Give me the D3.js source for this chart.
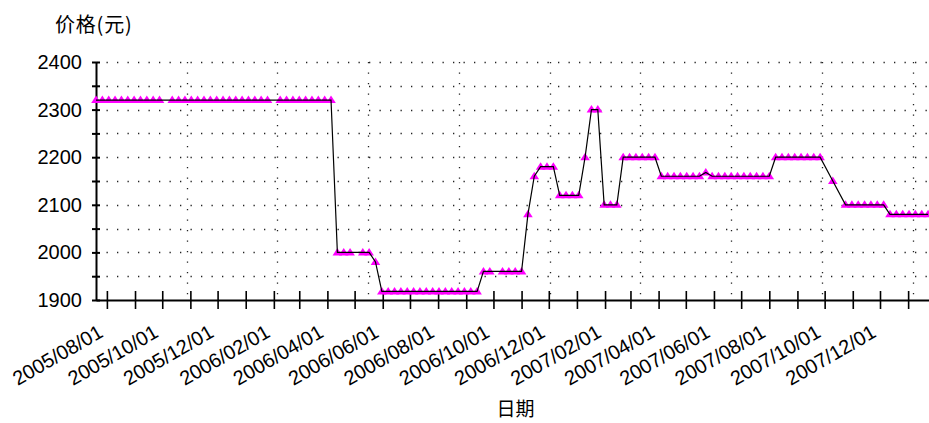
<!DOCTYPE html>
<html>
<head>
<meta charset="utf-8">
<script src="https://cdn.jsdelivr.net/npm/d3@7"></script>
<style>
  html, body { margin: 0; padding: 0; background: #fff; }
  svg { display: block; }
  text { font-family: "Liberation Sans", Arial, sans-serif; fill: #000; }
  .cjk { font-family: "Noto Sans CJK SC", sans-serif; }
</style>
</head>
<body>
<svg id="chart" width="929" height="423"></svg>
<script>
// ---- data ----
const dates = [
  "2005-07-20","2005-07-27","2005-08-03","2005-08-10","2005-08-17","2005-08-24","2005-08-31","2005-09-07","2005-09-14","2005-09-21","2005-09-28",
  "2005-10-12","2005-10-19","2005-10-26","2005-11-02","2005-11-09","2005-11-16","2005-11-23","2005-11-30","2005-12-07","2005-12-14","2005-12-21","2005-12-28","2006-01-04","2006-01-11","2006-01-18","2006-01-25",
  "2006-02-08","2006-02-15","2006-02-22","2006-03-01","2006-03-08","2006-03-15","2006-03-22","2006-03-29","2006-04-05",
  "2006-04-12","2006-04-19","2006-04-26",
  "2006-05-10","2006-05-17",
  "2006-05-24",
  "2006-05-31","2006-06-07","2006-06-14","2006-06-21","2006-06-28","2006-07-05","2006-07-12","2006-07-19","2006-07-26","2006-08-02","2006-08-09","2006-08-16","2006-08-23","2006-08-30","2006-09-06","2006-09-13",
  "2006-09-20","2006-09-27",
  "2006-10-11","2006-10-18","2006-10-25","2006-11-01",
  "2006-11-08",
  "2006-11-15",
  "2006-11-22","2006-11-29","2006-12-06",
  "2006-12-13","2006-12-20","2006-12-27","2007-01-03",
  "2007-01-10",
  "2007-01-17","2007-01-24",
  "2007-01-31","2007-02-07","2007-02-14",
  "2007-02-21","2007-02-28","2007-03-07","2007-03-14","2007-03-21","2007-03-28",
  "2007-04-04","2007-04-11","2007-04-18","2007-04-25","2007-05-02","2007-05-09","2007-05-16",
  "2007-05-23",
  "2007-05-30","2007-06-06","2007-06-13","2007-06-20","2007-06-27","2007-07-04","2007-07-11","2007-07-18","2007-07-25","2007-08-01",
  "2007-08-08","2007-08-15","2007-08-22","2007-08-29","2007-09-05","2007-09-12","2007-09-19","2007-09-26",
  "2007-10-10",
  "2007-10-24","2007-10-31","2007-11-07","2007-11-14","2007-11-21","2007-11-28","2007-12-05",
  "2007-12-12","2007-12-19","2007-12-26","2008-01-02","2008-01-09","2008-01-16","2008-01-23"
];
const prices = [
  2320,2320,2320,2320,2320,2320,2320,2320,2320,2320,2320,
  2320,2320,2320,2320,2320,2320,2320,2320,2320,2320,2320,2320,2320,2320,2320,2320,
  2320,2320,2320,2320,2320,2320,2320,2320,2320,
  2000,2000,2000,
  2000,2000,
  1980,
  1918,1918,1918,1918,1918,1918,1918,1918,1918,1918,1918,1918,1918,1918,1918,1918,
  1960,1960,
  1960,1960,1960,1960,
  2080,
  2160,
  2180,2180,2180,
  2120,2120,2120,2120,
  2200,
  2300,2300,
  2100,2100,2100,
  2200,2200,2200,2200,2200,2200,
  2160,2160,2160,2160,2160,2160,2160,
  2168,
  2160,2160,2160,2160,2160,2160,2160,2160,2160,2160,
  2200,2200,2200,2200,2200,2200,2200,2200,
  2150,
  2100,2100,2100,2100,2100,2100,2100,
  2080,2080,2080,2080,2080,2080,2080
];
const xDomain = ["2005-07-20", "2008-01-24"];
const yDomain = [1900, 2400];
const yTicks = [1900, 1950, 2000, 2050, 2100, 2150, 2200, 2250, 2300, 2350, 2400];
const yTitle = "价格(元)";
const xTitle = "日期";
const gridDays = 100;

// ---- layout ----
const M = { left: 96, right: 929, top: 62, bottom: 300 };
const parse = d3.timeParse("%Y-%m-%d");
const fmt = d3.timeFormat("%Y/%m/%d");
const data = dates.map((d, i) => ({ date: parse(d), value: prices[i] }));

const x = d3.scaleTime().domain(xDomain.map(parse)).range([M.left, M.right]);
const y = d3.scaleLinear().domain(yDomain).range([M.bottom, M.top]);

const svg = d3.select("#chart");

// grid: horizontal dotted rows
svg.append("g").selectAll("line")
  .data(yTicks.filter(v => v > yDomain[0]))
  .join("line")
  .attr("x1", M.left + 1).attr("x2", M.right)
  .attr("y1", d => Math.round(y(d)) + 0.5).attr("y2", d => Math.round(y(d)) + 0.5)
  .attr("stroke", "#222").attr("stroke-width", 1.3)
  .attr("stroke-dasharray", "1.3,9.2").attr("stroke-dashoffset", -9.5);

// grid: vertical dotted lines every 100 days
const gStart = parse(xDomain[0]), gEnd = parse(xDomain[1]);
const vGrid = [];
for (let d = d3.timeDay.offset(gStart, gridDays); d <= gEnd; d = d3.timeDay.offset(d, gridDays)) vGrid.push(d);
svg.append("g").selectAll("line")
  .data(vGrid)
  .join("line")
  .attr("x1", d => Math.round(x(d)) + 0.5).attr("x2", d => Math.round(x(d)) + 0.5)
  .attr("y1", M.top).attr("y2", M.bottom)
  .attr("stroke", "#222").attr("stroke-width", 1.3)
  .attr("stroke-dasharray", "1.3,9.2");

// y axis
const gy = svg.append("g").attr("transform", `translate(${M.left},0)`)
  .call(d3.axisLeft(y).tickValues(yTicks).tickFormat(d => d % 100 === 0 ? d : "").tickSize(4).tickSizeOuter(0).tickPadding(10));
gy.select(".domain").attr("stroke", "#000").attr("stroke-width", 2);
gy.selectAll(".tick line").attr("x1", -4).attr("x2", 4).attr("stroke", "#000").attr("stroke-width", 2);
gy.selectAll(".tick text").attr("font-size", 20).style("font-family", "Liberation Sans, Arial, sans-serif").attr("fill", "#000");

// x axis
const gx = svg.append("g").attr("transform", `translate(0,${M.bottom})`)
  .call(d3.axisBottom(x).ticks(d3.timeMonth.every(1))
    .tickFormat(d => d.getMonth() % 2 === 1 ? fmt(d) : "")
    .tickSize(9).tickSizeOuter(0));
gx.select(".domain").attr("stroke", "#000").attr("stroke-width", 2);
gx.selectAll(".tick line").attr("y1", -9).attr("y2", 9).attr("stroke", "#000").attr("stroke-width", 1.6);
gx.selectAll(".tick text")
  .attr("font-size", 20).style("font-family", "Liberation Sans, Arial, sans-serif").attr("fill", "#000")
  .attr("x", 0).attr("y", 0).attr("dy", 0)
  .attr("transform", "translate(-3,36) rotate(-30)")
  .style("text-anchor", "end");

// series: triangles then line on top
const triangle = {
  draw(ctx) {
    ctx.moveTo(0, -4.5);
    ctx.lineTo(4.8, 3);
    ctx.lineTo(-4.8, 3);
    ctx.closePath();
  }
};
const sym = d3.symbol().type(triangle);
svg.append("g").selectAll("path")
  .data(data)
  .join("path")
  .attr("d", sym)
  .attr("transform", d => `translate(${x(d.date)},${y(d.value)})`)
  .attr("fill", "#ff00ff");

const line = d3.line().x(d => x(d.date)).y(d => y(d.value));
svg.append("path").datum(data)
  .attr("d", line)
  .attr("fill", "none").attr("stroke", "#000").attr("stroke-width", 1.2);

// titles
svg.append("text").attr("class", "cjk").attr("x", 55).attr("y", 32)
  .attr("font-size", 20).attr("letter-spacing", 0.8).text(yTitle);
svg.append("text").attr("class", "cjk").attr("x", (M.left + M.right) / 2 + 3).attr("y", 416)
  .attr("font-size", 19).attr("text-anchor", "middle").text(xTitle);
</script>
</body>
</html>
